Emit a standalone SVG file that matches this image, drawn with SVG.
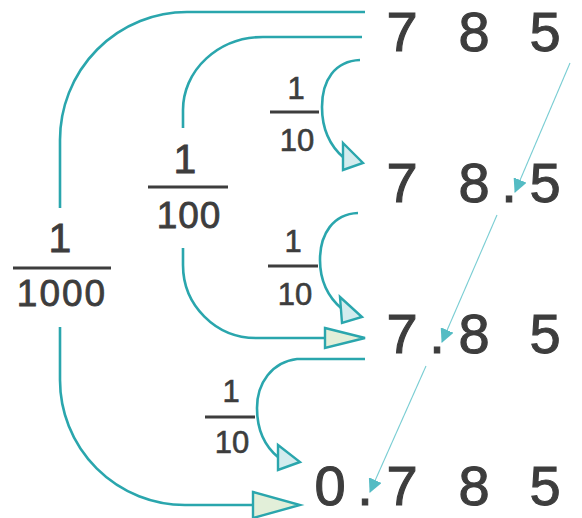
<svg xmlns="http://www.w3.org/2000/svg" width="582" height="518" viewBox="0 0 582 518">
<style>
.t{font-family:"Liberation Sans","Open Sans",sans-serif;fill:#3d3d3d;stroke:#3d3d3d;text-anchor:middle}
.big{font-size:56px;stroke-width:1.1px}
.n{font-size:41px;stroke-width:0.8px}
.s{font-size:31px;stroke-width:0.6px}
.fl{stroke:#3d3d3d;stroke-width:3}
.c{fill:none;stroke:#2aa6ad;stroke-width:2.6}
.hb{fill:#d3ecee;stroke:#2aa6ad;stroke-width:2.4;stroke-linejoin:miter}
.hg{fill:#e2efd9;stroke:#2aa6ad;stroke-width:2.4;stroke-linejoin:miter}
.dg{stroke:#79cdd3;stroke-width:1.1;fill:none;marker-end:url(#ah)}
</style>
<defs>
<marker id="ah" viewBox="0 0 14 14" refX="13" refY="7" markerWidth="14" markerHeight="14" markerUnits="userSpaceOnUse" orient="auto">
<path d="M0 0 L14 7 L0 14 z" fill="#55bcc4"/>
</marker>
</defs>
<g id="connectors">
<path class="c" d="M365 12 H187 A127 128 0 0 0 60 140 V208"/>
<path class="c" d="M60 327 V380 A125 125 0 0 0 185 505 H255"/>
<path class="c" d="M362 37 H263 A80 73 0 0 0 183 110 V128"/>
<path class="c" d="M183 248 V265 A73 73 0 0 0 256 338 H326"/>
<path class="c" d="M360 60 C335 61 322 80 322 107 C322 128 330 146 344 158"/>
<path class="c" d="M358 213 C333 214 320 234 320 260 C320 280 328 297 342 309"/>
<path class="c" d="M365 359 H297 C272 362 257 383 257 408 C257 428 264 446 279 458"/>
<polygon class="hb" points="343,143 363,163 343,170"/>
<polygon class="hb" points="340,297 362,317 342,323"/>
<polygon class="hb" points="278,445 300,462 278,470"/>
<polygon class="hg" points="325,328 365,338 325,348"/>
<polygon class="hg" points="253,492 300,505 253,518"/>
<path class="dg" d="M570 63 L515 192"/>
<path class="dg" d="M497 215 L442 342"/>
<path class="dg" d="M426 366 L370 492"/>
</g>
<g id="row1"><text class="t big" x="402 474 545" y="51">785</text></g>
<g id="row2"><text class="t big" x="402 474 509 545" y="202">78.5</text></g>
<g id="row3"><text class="t big" x="402 437 474 545" y="353">7.85</text></g>
<g id="row4"><text class="t big" x="330 365 402 474 545" y="505">0.785</text></g>
<g id="frac1000">
<text class="t n" x="60" y="252">1</text>
<line class="fl" x1="13" y1="268" x2="111" y2="268"/>
<text class="t n" x="62" y="306" style="font-size:37px;letter-spacing:2px">1000</text>
</g>
<g id="frac100">
<text class="t n" x="185" y="173">1</text>
<line class="fl" x1="148" y1="187" x2="228" y2="187"/>
<text class="t n" x="189" y="228" style="font-size:37px;letter-spacing:1px">100</text>
</g>
<g id="frac10a">
<text class="t s" x="296" y="99">1</text>
<line class="fl" x1="270" y1="112" x2="319" y2="112"/>
<text class="t s" x="297" y="151">10</text>
</g>
<g id="frac10b">
<text class="t s" x="293" y="252">1</text>
<line class="fl" x1="268" y1="266" x2="318" y2="266"/>
<text class="t s" x="295" y="305">10</text>
</g>
<g id="frac10c">
<text class="t s" x="231" y="402">1</text>
<line class="fl" x1="205" y1="417" x2="255" y2="417"/>
<text class="t s" x="232" y="453">10</text>
</g>
</svg>
